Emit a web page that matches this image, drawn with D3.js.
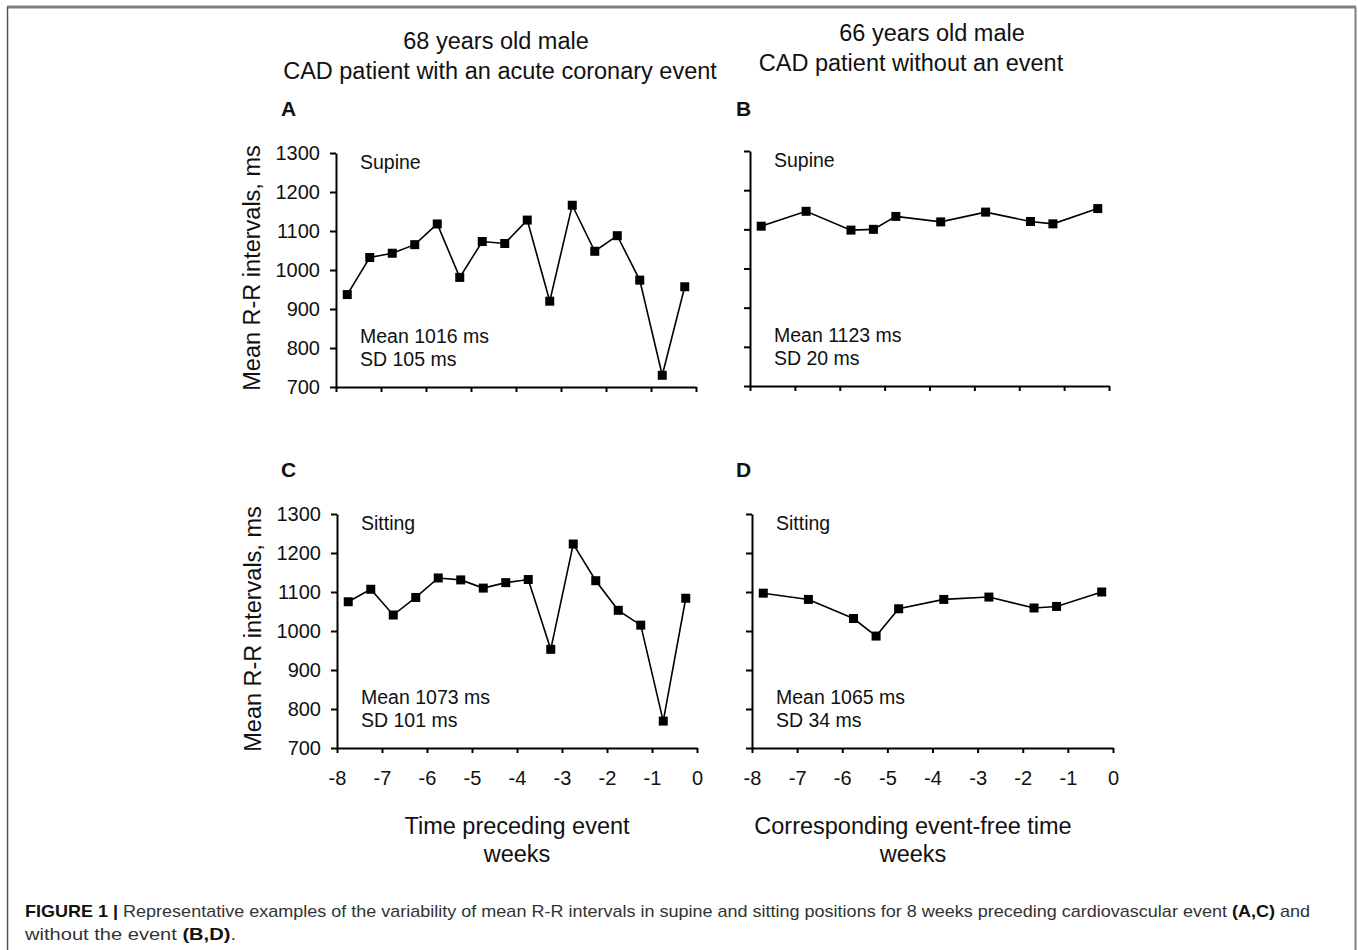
<!DOCTYPE html>
<html>
<head>
<meta charset="utf-8">
<script src="https://d3js.org/d3.v7.min.js"></script>
<style>
  body { margin: 0; background: #fff; }
  text { font-family: "Liberation Sans", Arial, sans-serif; fill: #111; }
  .axis path, .axis line { stroke: #000; stroke-width: 2; }
  .axis text { font-size: 20px; fill: #111; }
</style>
</head>
<body>
<script>
// weeks before the event (x positions of each measurement)
const eventWeeks = [-7.75, -7.25, -6.75, -6.25, -5.75, -5.25, -4.75, -4.25,
                    -3.75, -3.25, -2.75, -2.25, -1.75, -1.25, -0.75, -0.25];
const controlWeeks = [-7.75, -6.75, -5.75, -5.25, -4.75, -3.75, -2.75, -1.75, -1.25, -0.25];

// mean R-R intervals, ms
const supineEvent = [937, 1032, 1043, 1065, 1118, 981, 1073, 1068, 1128, 920, 1166, 1048, 1088, 974, 730, 957];
const supineControl = [1108, 1146, 1098, 1100, 1133, 1119, 1144, 1120, 1114, 1153];
const sittingEvent = [1075, 1107, 1041, 1086, 1136, 1131, 1110, 1124, 1132, 953, 1223, 1129, 1053, 1015, 769, 1084];
const sittingControl = [1097, 1081, 1032, 987, 1057, 1081, 1087, 1059, 1063, 1100];

const xTicks = [-8, -7, -6, -5, -4, -3, -2, -1, 0];
const yTicks = [700, 800, 900, 1000, 1100, 1200, 1300];

const width = 1358;
const height = 950;

const svg = d3.select("body").append("svg")
    .attr("width", width)
    .attr("height", height);

// frame around the figure
svg.append("line").attr("x1", 7).attr("x2", 1356).attr("y1", 7).attr("y2", 7)
    .attr("stroke", "#808080").attr("stroke-width", 3);
svg.append("line").attr("x1", 7.5).attr("x2", 7.5).attr("y1", 7).attr("y2", height)
    .attr("stroke", "#555").attr("stroke-width", 1.5);
svg.append("line").attr("x1", 1355.5).attr("x2", 1355.5).attr("y1", 7).attr("y2", height)
    .attr("stroke", "#808080").attr("stroke-width", 2);

// column titles
const titles = [
    {x1: 496, x2: 500, y: 49, lines: ["68 years old male", "CAD patient with an acute coronary event"]},
    {x1: 932, x2: 911, y: 41, lines: ["66 years old male", "CAD patient without an event"]}
];
titles.forEach(t => {
    svg.append("text").attr("x", t.x1).attr("y", t.y)
        .attr("text-anchor", "middle").style("font-size", "23.5px").text(t.lines[0]);
    svg.append("text").attr("x", t.x2).attr("y", t.y + 30)
        .attr("text-anchor", "middle").style("font-size", "23.5px").text(t.lines[1]);
});

const panels = [
    {id: "A", lx: 281, weeks: eventWeeks, values: supineEvent, label: "Supine", mean: "Mean 1016 ms", sd: "SD 105 ms",
     x0: 336, x1: 696, top: 153, bottom: 387, yLabels: true, xLabels: false},
    {id: "B", lx: 736, weeks: controlWeeks, values: supineControl, label: "Supine", mean: "Mean 1123 ms", sd: "SD 20 ms",
     x0: 750, x1: 1109, top: 151, bottom: 386, yLabels: false, xLabels: false},
    {id: "C", lx: 281, weeks: eventWeeks, values: sittingEvent, label: "Sitting", mean: "Mean 1073 ms", sd: "SD 101 ms",
     x0: 337, x1: 697, top: 514, bottom: 748, yLabels: true, xLabels: true},
    {id: "D", lx: 736, weeks: controlWeeks, values: sittingControl, label: "Sitting", mean: "Mean 1065 ms", sd: "SD 34 ms",
     x0: 752, x1: 1113, top: 514, bottom: 748, yLabels: false, xLabels: true}
];

panels.forEach(p => {
    const x = d3.scaleLinear().domain([-8, 0]).range([p.x0, p.x1]);
    const y = d3.scaleLinear().domain([700, 1300]).range([p.bottom, p.top]);
    const g = svg.append("g");

    // panel letter
    g.append("text").attr("x", p.lx).attr("y", p.id < "C" ? 116 : 477)
        .style("font-size", "21px").style("font-weight", "bold").text(p.id);

    const yAxis = d3.axisLeft(y).tickValues(yTicks).tickSize(6).tickSizeOuter(0).tickPadding(10)
        .tickFormat(p.yLabels ? d3.format("d") : () => "");
    g.append("g").attr("class", "axis").attr("transform", `translate(${p.x0},0)`).call(yAxis);

    const xAxis = d3.axisBottom(x).tickValues(xTicks).tickSize(5).tickSizeOuter(0).tickPadding(18)
        .tickFormat(p.xLabels ? d => String(d).replace("\u2212", "-") : () => "");
    g.append("g").attr("class", "axis").attr("transform", `translate(0,${p.bottom})`).call(xAxis);

    if (p.yLabels) {
        g.append("text")
            .attr("transform", `translate(${p.x0 - 76},${(p.top + p.bottom) / 2 - 2}) rotate(-90)`)
            .attr("text-anchor", "middle").style("font-size", "23.5px")
            .text("Mean R-R intervals, ms");
    }

    // series line and square markers
    const pts = p.weeks.map((w, i) => [w, p.values[i]]);
    g.append("path").datum(pts)
        .attr("fill", "none").attr("stroke", "#000").attr("stroke-width", 1.6)
        .attr("d", d3.line().x(d => x(d[0])).y(d => y(d[1])));
    g.selectAll("rect.pt").data(pts).enter().append("rect")
        .attr("class", "pt")
        .attr("x", d => x(d[0]) - 4.5).attr("y", d => y(d[1]) - 4.5)
        .attr("width", 9).attr("height", 9).attr("fill", "#000");

    // annotations
    g.append("text").attr("x", p.x0 + 24).attr("y", p.top + 16).style("font-size", "19.5px").text(p.label);
    g.append("text").attr("x", p.x0 + 24).attr("y", p.bottom - 44).style("font-size", "19.5px").text(p.mean);
    g.append("text").attr("x", p.x0 + 24).attr("y", p.bottom - 21).style("font-size", "19.5px").text(p.sd);
});

// x axis titles
[{x: 517, t: "Time preceding event"}, {x: 913, t: "Corresponding event-free time"}].forEach(a => {
    svg.append("text").attr("x", a.x).attr("y", 834).attr("text-anchor", "middle")
        .style("font-size", "23.5px").text(a.t);
    svg.append("text").attr("x", a.x).attr("y", 862).attr("text-anchor", "middle")
        .style("font-size", "23.5px").text("weeks");
});

// caption
const cap1 = svg.append("text").attr("x", 25).attr("y", 917)
    .attr("textLength", 1285).attr("lengthAdjust", "spacingAndGlyphs")
    .style("font-size", "17px").style("fill", "#333");
cap1.append("tspan").style("font-weight", "bold").style("fill", "#111").text("FIGURE 1 | ");
cap1.append("tspan").text("Representative examples of the variability of mean R-R intervals in supine and sitting positions for 8 weeks preceding cardiovascular event ");
cap1.append("tspan").style("font-weight", "bold").style("fill", "#111").text("(A,C)");
cap1.append("tspan").text(" and");

const cap2 = svg.append("text").attr("x", 25).attr("y", 940)
    .attr("textLength", 211).attr("lengthAdjust", "spacingAndGlyphs")
    .style("font-size", "17px").style("fill", "#333");
cap2.append("tspan").text("without the event ");
cap2.append("tspan").style("font-weight", "bold").style("fill", "#111").text("(B,D)");
cap2.append("tspan").text(".");
</script>
</body>
</html>
